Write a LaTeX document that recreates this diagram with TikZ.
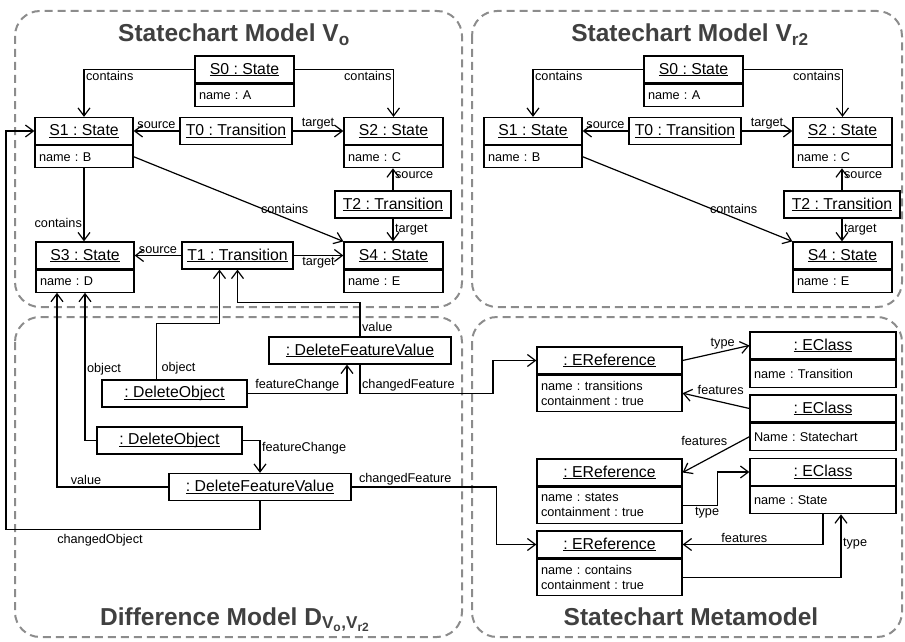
\documentclass[tikz,border=0pt]{standalone}
\usepackage{fontspec}
\setmainfont{Liberation Sans}
\usetikzlibrary{arrows.meta}

\definecolor{panelgray}{HTML}{8C8C8C}
\definecolor{titlegray}{HTML}{404040}

\newcommand{\uname}[1]{\setbox0=\hbox{#1}\rlap{\rule[-2pt]{\wd0}{1pt}}\box0}
\frenchspacing

\tikzset{
	panel/.style={draw=panelgray, line width=2pt, dash pattern=on 8pt off 5pt, rounded corners=25pt},
	paneltitle/.style={anchor=base, text=titlegray, font=\fontsize{24.5}{28}\selectfont\bfseries},
	ttl/.style={draw, fill=white, line width=1.2pt, inner sep=2pt, minimum width=#1, minimum height=27pt, font=\fontsize{15.8}{18}\selectfont},
	att/.style={draw, fill=white, line width=1.2pt, inner xsep=4pt, inner ysep=2pt, anchor=north, align=left, text width=#1, minimum height=22pt, font=\fontsize{12.7}{15}\selectfont},
	conn/.style={line width=1.2pt, -{Straight Barb[length=8pt, width=12pt]}},
	lbl/.style={font=\fontsize{12.7}{14}\selectfont, inner sep=1.5pt}
}

\begin{document}
\begin{tikzpicture}[x=1pt, y=-1pt]

\useasboundingbox (0,0) rectangle (905,642);

% PANELS
\draw [panel] (15,11) rectangle (462,307);
\draw [panel] (472,11) rectangle (902,307);
\draw [panel] (15,317) rectangle (462,637);
\draw [panel] (472,317) rectangle (902,637);

\node [paneltitle] at (234,42) {Statechart Model V\textsubscript{o}};
\node [paneltitle] at (690,42) {Statechart Model V\textsubscript{r2}};
\node [paneltitle] at (235,625) {Difference Model D\textsubscript{V\textsubscript{o},V\textsubscript{r2}}};
\node [paneltitle] at (691,625) {Statechart Metamodel};

% STATECHART MODELS
\foreach \p/\dx in {l/0, r/449} {
\begin{scope}[xshift=\dx pt, name prefix=\p-]
	\node [ttl=99pt] (s0) at (244.5,69.5) {\uname{S0 : State}};
	\node [att=91pt] (s0a) at (s0.south) {name : A};
	\node [ttl=98pt] (s1) at (84,131) {\uname{S1 : State}};
	\node [att=90pt] (s1a) at (s1.south) {name : B};
	\node [ttl=112pt] (t0) at (236,131) {\uname{T0 : Transition}};
	\node [ttl=99pt] (s2) at (393.5,131) {\uname{S2 : State}};
	\node [att=91pt] (s2a) at (s2.south) {name : C};
	\node [ttl=116pt] (t2) at (393,204.5) {\uname{T2 : Transition}};
	\node [ttl=99pt] (s4) at (393.5,255.5) {\uname{S4 : State}};
	\node [att=91pt] (s4a) at (s4.south) {name : E};

	\draw [conn] (s0.west) -| node[lbl, below right] {contains} (s1.north);
	\draw [conn] (s0.east) -| node[lbl, below left] {contains} (s2.north);
	\draw [conn] (t0.west) -- node[lbl, above] {source} (s1.east);
	\draw [conn] (t0.east) -- node[lbl, above] {target} (s2.west);
	\draw [conn] (t2.north) -- node[lbl, right, pos=0.7] {source} (t2.north |- s2a.south);
	\draw [conn] (t2.south) -- node[lbl, right] {target} (t2.south |- s4.north);
	\draw [conn] (s1a.east) -- node[lbl, above=2pt, pos=0.72] {contains} (s4.north west);
\end{scope}
}

\node [ttl=98pt] (l-s3) at (85,255.5) {\uname{S3 : State}};
\node [att=90pt] (l-s3a) at (l-s3.south) {name : D};
\node [ttl=111pt] (l-t1) at (237.5,255.5) {\uname{T1 : Transition}};

\draw [conn] (l-s1a.south) -- node[lbl, left, pos=0.75] {contains} (l-s1a.south |- l-s3.north);
\draw [conn] (l-t1.west) -- node[lbl, above] {source} (l-s3.east);
\draw [conn] (l-t1.east) -- node[lbl, below] {target} (l-s4.west);

% DIFFERENCE MODEL
\node [ttl=182pt] (dfv1) at (360,350.5) {\uname{: DeleteFeatureValue}};
\node [ttl=145pt] (do1) at (174.5,393.5) {\uname{: DeleteObject}};
\node [ttl=145pt] (do2) at (169.5,440.5) {\uname{: DeleteObject}};
\node [ttl=182pt] (dfv2) at (260,487) {\uname{: DeleteFeatureValue}};

% METAMODEL
\node [ttl=145pt] (er1) at (609.5,360.5) {\uname{: EReference}};
\node [att=137pt, minimum height=36pt] (er1a) at (er1.south) {name : transitions\\containment : true};
\node [ttl=146pt] (ec1) at (823,345.5) {\uname{: EClass}};
\node [att=138pt, minimum height=27pt] (ec1a) at (ec1.south) {name : Transition};
\node [ttl=146pt] (ec2) at (823,408.5) {\uname{: EClass}};
\node [att=138pt, minimum height=27pt] (ec2a) at (ec2.south) {Name : Statechart};
\node [ttl=145pt] (er2) at (609.5,472.5) {\uname{: EReference}};
\node [att=137pt, minimum height=36pt] (er2a) at (er2.south) {name : states\\containment : true};
\node [ttl=146pt] (ec3) at (823,472) {\uname{: EClass}};
\node [att=138pt, minimum height=27pt] (ec3a) at (ec3.south) {name : State};
\node [ttl=145pt] (er3) at (609.5,544.5) {\uname{: EReference}};
\node [att=137pt, minimum height=36pt] (er3a) at (er3.south) {name : contains\\containment : true};

% CHANGES
\draw [conn] (dfv1.north) -- node[lbl, right, pos=0.27] {value} ++(0,-34) -| (l-t1.south);
\draw [conn] ([xshift=-18pt]do1.north) -- node[lbl, right=3pt, pos=0.2] {object} ++(0,-56) -| ([xshift=-18pt]l-t1.south);
\draw [conn] (do1.east) -| node[lbl, above, pos=0.25] {featureChange} ([xshift=-13pt]dfv1.south);
\draw [conn] (dfv1.south) -- ++(0,29) node[lbl, above right] {changedFeature} -- ++(133,0) |- (er1.west);
\draw [conn] (do2.west) -| node[lbl, right, pos=0.74] {object} (l-s3a.south);
\draw [conn] (do2.east) -| node[lbl, below right] {featureChange} (dfv2.north);
\draw [conn] (dfv2.west) -| node[lbl, above, pos=0.37] {value} ([xshift=-28pt]l-s3a.south);
\draw [conn] (dfv2.east) -- node[lbl, above, pos=0.37] {changedFeature} ++(145,0) |- (er3.west);
\draw [conn] (dfv2.south) -- ++(0,28) -- node[lbl, below=3pt, pos=0.63] {changedObject} ++(-254,0) |- (l-s1.west);

% METAMODEL LINKS
\draw [conn] (er1.east) -- node[lbl, above, pos=0.6] {type} (ec1.west);
\draw [conn] (ec2.west) -- node[lbl, above=5pt, pos=0.43] {features} (er1a.east);
\draw [conn] (ec2a.west) -- node[lbl, above left, pos=0.3] {features} (er2.east);
\draw [conn] (er2a.east) -- node[lbl, below, pos=0.7] {type} ++(35,0) |- (ec3.west);
\draw [conn] (ec3a.south) |- node[lbl, above, pos=0.78] {features} (er3.east);
\draw [conn] (er3a.east) -| node[lbl, right, pos=0.77] {type} ([xshift=18pt]ec3a.south);

\end{tikzpicture}
\end{document}
